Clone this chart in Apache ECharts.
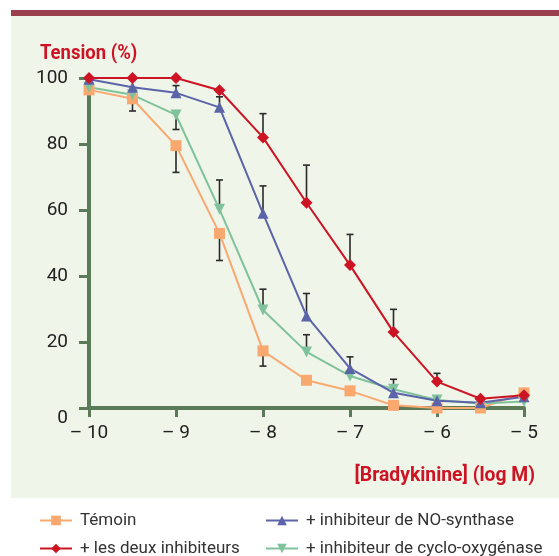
<!DOCTYPE html>
<html><head><meta charset="utf-8">
<script src="https://cdn.jsdelivr.net/npm/echarts@6/dist/echarts.min.js"></script>
<style>html,body{margin:0;padding:0;background:#fff}#c{width:559px;height:556px}</style>
</head><body><div id="c"></div>
<script>
var xValues = [-10, -9.5, -9, -8.5, -8, -7.5, -7, -6.5, -6, -5.5, -5];
var xTicks = [-10, -9, -8, -7, -6, -5];
var yTicks = [0, 20, 40, 60, 80, 100];
var seriesNames = ['Témoin', '+ les deux inhibiteurs', '+ inhibiteur de NO-synthase', '+ inhibiteur de cyclo-oxygénase'];
var yTitle = 'Tension (%)';
var xTitle = '[Bradykinine] (log M)';
var temoin = [96.4, 93.7, 79.5, 52.9, 17.3, 8.4, 5.2, 0.8, 0, 0, 4.6];
var temoinErr = [null, 90.0, 71.4, 44.7, 12.7, null, null, null, null, null, null];
var deux = [100, 100, 100, 96.3, 82.0, 62.2, 43.3, 23.0, 8.0, 2.8, 3.9];
var deuxErr = [null, null, null, null, 89.2, 73.6, 52.6, 29.9, 10.5, null, null];
var noSynth = [99.6, 97.2, 95.5, 91.1, 59.0, 27.9, 12.0, 4.6, 2.2, 1.6, 3.4];
var noSynthErr = [null, null, 97.7, 94.3, 67.3, 34.7, 15.5, null, null, null, null];
var cyclo = [97.2, 94.9, 88.8, 60.2, 29.7, 17.0, 9.7, 5.7, 2.4, 1.4, 2.0];
var cycloErr = [null, null, 84.4, 69.1, 36.0, 22.2, null, 8.7, null, null, null];

var FONT = 'Roboto, "Liberation Sans", sans-serif';
var colors = {temoin: '#f9a870', deux: '#cc1424', no: '#5b64a8', cyclo: '#7fc29c'};

function pairs(vals) { return xValues.map(function (x, i) { return [x, vals[i]]; }); }
function errData(vals, errs) {
  var out = [];
  xValues.forEach(function (x, i) { if (errs[i] != null) out.push([x, vals[i], errs[i]]); });
  return out;
}
var allErr = [].concat(errData(temoin, temoinErr), errData(deux, deuxErr), errData(noSynth, noSynthErr), errData(cyclo, cycloErr));

function lineSeries(name, vals, color, symbol, size, rot) {
  return {
    name: name, type: 'line', data: pairs(vals), z: 5,
    symbol: symbol, symbolSize: size, symbolRotate: rot || 0,
    lineStyle: {color: color, width: 2}, itemStyle: {color: color},
    emphasis: {disabled: true}
  };
}
function legendItem(name, left, top) {
  return {left: left, top: top, itemWidth: 32, itemHeight: 12, data: [name], selectedMode: false,
    textStyle: {fontFamily: FONT, fontSize: 17, color: '#333', padding: [0, 0, 0, 3]}};
}

var chart = echarts.init(document.getElementById('c'), null, {renderer: 'canvas'});
chart.setOption({
  animation: false,
  backgroundColor: '#ffffff',
  graphic: [
    {type: 'rect', shape: {x: 11, y: 15, width: 548, height: 483}, style: {fill: '#eff5e8'}, z: -10},
    {type: 'rect', shape: {x: 11, y: 10, width: 548, height: 6}, style: {fill: '#9a3f4e'}, z: -9},
    {type: 'text', x: 40, y: 54, scaleX: 0.88, style: {text: yTitle, fontFamily: FONT, fontWeight: 'bold', fontSize: 21, fill: '#cc1424', align: 'left', verticalAlign: 'middle'}},
    {type: 'text', x: 535, y: 476, scaleX: 0.92, style: {text: xTitle, fontFamily: FONT, fontWeight: 'bold', fontSize: 21, fill: '#cc1424', align: 'right', verticalAlign: 'middle'}}
  ],
  legend: [
    legendItem(seriesNames[0], 34, 507),
    legendItem(seriesNames[1], 34, 535),
    legendItem(seriesNames[2], 260, 507),
    legendItem(seriesNames[3], 260, 535)
  ],
  grid: {left: 89, right: 35, top: 78, bottom: 148},
  xAxis: {
    type: 'value', min: -10, max: -5, interval: 1,
    axisLine: {show: true, onZero: false, lineStyle: {color: '#5b7a58', width: 4}},
    axisTick: {show: true, length: 9, lineStyle: {color: '#5b7a58', width: 3}},
    splitLine: {show: false},
    axisLabel: {margin: 16, fontFamily: FONT, fontSize: 19, color: '#222',
      formatter: function (v) { return xTicks.indexOf(v) >= 0 ? '\u2013 ' + Math.abs(v) : ''; }}
  },
  yAxis: {
    type: 'value', min: 0, max: 100, interval: 20,
    axisLine: {show: true, lineStyle: {color: '#5b7a58', width: 4}},
    axisTick: {show: true, length: 10, lineStyle: {color: '#5b7a58', width: 3}},
    splitLine: {show: false},
    axisLabel: {margin: 21, fontFamily: FONT, fontSize: 19, color: '#222',
      formatter: function (v) { return yTicks.indexOf(v) >= 0 ? (v === 0 ? '{z|0}' : String(v)) : ''; },
      rich: {z: {fontFamily: FONT, fontSize: 19, color: '#222', padding: [20, 0, 0, 0]}}}
  },
  series: [
    {
      type: 'custom', name: 'err', data: allErr, z: 3, silent: true,
      renderItem: function (params, api) {
        var x = api.value(0);
        var p1 = api.coord([x, api.value(1)]);
        var p2 = api.coord([x, api.value(2)]);
        var st = {stroke: '#2a2a2a', lineWidth: 1.6};
        return {type: 'group', children: [
          {type: 'line', shape: {x1: p1[0], y1: p1[1], x2: p2[0], y2: p2[1]}, style: st},
          {type: 'line', shape: {x1: p2[0] - 3.5, y1: p2[1], x2: p2[0] + 3.5, y2: p2[1]}, style: st}
        ]};
      }
    },
    lineSeries(seriesNames[0], temoin, colors.temoin, 'rect', 11),
    lineSeries(seriesNames[3], cyclo, colors.cyclo, 'triangle', 11, 180),
    lineSeries(seriesNames[2], noSynth, colors.no, 'triangle', 11),
    lineSeries(seriesNames[1], deux, colors.deux, 'diamond', 12)
  ]
});
</script></body></html>
